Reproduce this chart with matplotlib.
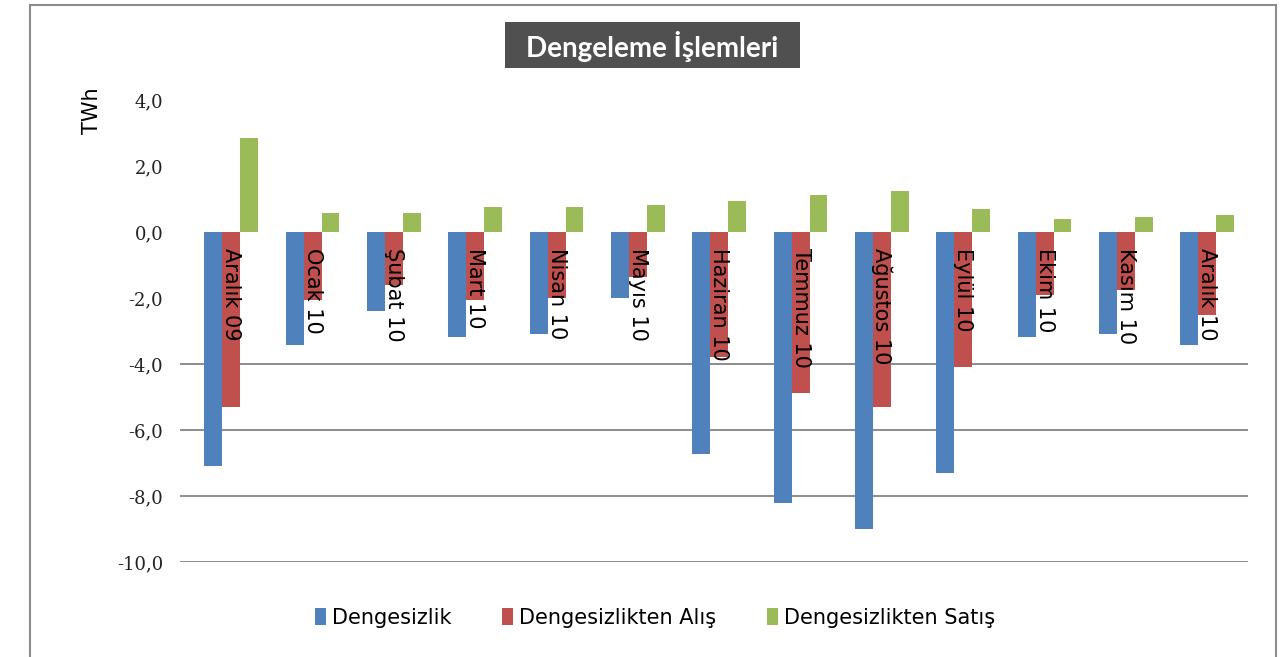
import numpy as np
import matplotlib
matplotlib.use("Agg")
import matplotlib.pyplot as plt
from matplotlib.patches import Rectangle
from matplotlib.ticker import FuncFormatter

plt.rcParams["axes.unicode_minus"] = False

# monthly balancing volumes, TWh
months = ["Aralık 09", "Ocak 10", "Şubat 10", "Mart 10", "Nisan 10", "Mayıs 10",
          "Haziran 10", "Temmuz 10", "Ağustos 10", "Eylül 10", "Ekim 10",
          "Kasım 10", "Aralık 10"]
dengesizlik = [-7.10, -3.42, -2.38, -3.17, -3.10, -2.01, -6.74, -8.22, -9.00,
               -7.29, -3.17, -3.10, -3.42]
alis = [-5.29, -2.06, -1.60, -2.06, -2.00, -1.35, -3.78, -4.87, -5.29,
        -4.08, -1.90, -1.76, -2.50]
satis = [2.84, 0.59, 0.59, 0.77, 0.77, 0.82, 0.95, 1.12, 1.24, 0.70, 0.39,
         0.46, 0.52]
series_names = ["Dengesizlik", "Dengesizlikten Alış", "Dengesizlikten Satış"]
yticks = [4, 2, 0, -2, -4, -6, -8, -10]

COLORS = ["#4F81BD", "#C0504D", "#9BBB59"]
BAR_W = 0.22
GRID_COLOR = "#8c8c8c"

fig = plt.figure(figsize=(12.87, 6.57), dpi=100)
ax = fig.add_axes([180 / 1287, 1 - 562 / 657, (1248 - 180) / 1287, (562 - 100) / 657])

x = np.arange(len(months))
for k, (vals, name) in enumerate(zip([dengesizlik, alis, satis], series_names)):
    ax.bar(x + (k - 1) * BAR_W, vals, width=BAR_W, color=COLORS[k], label=name,
           zorder=2)

# gridlines only show on the lower part of the original
for t in yticks:
    if t <= -4:
        ax.axhline(t, color=GRID_COLOR, lw=1.4, zorder=1)

# category labels hang down from the zero line, rotated
for i, m in enumerate(months):
    ax.text(i, -0.5, m, rotation=270, ha="center", va="top", fontsize=15,
            family="DejaVu Sans", color="black", zorder=3)

ax.set_xlim(-0.63, len(months) - 0.5)
ax.set_ylim(-10, 4)
ax.set_yticks(yticks)
ax.yaxis.set_major_formatter(FuncFormatter(lambda v, p: f"{v:.1f}".replace(".", ",")))
ax.tick_params(axis="y", length=0, pad=12, labelsize=13, labelcolor="#222222")
for lab in ax.get_yticklabels():
    lab.set_family("DejaVu Serif")
ax.set_xticks([])
for s in ax.spines.values():
    s.set_visible(False)

fig.text(92 / 1287, 1 - 111 / 657, "TWh", rotation=90, ha="center", va="center",
         fontsize=15, family="DejaVu Sans")

# title in a dark box
fig.patches.append(Rectangle((505 / 1287, 1 - 68 / 657), 295 / 1287, 46 / 657,
                             transform=fig.transFigure, facecolor="#505050",
                             edgecolor="none"))
fig.text(652 / 1287, 1 - 46 / 657, "Dengeleme İşlemleri", ha="center", va="center",
         fontsize=20, fontweight="bold", family="Lato", color="white")

# outer frame
fig.patches.append(Rectangle((30 / 1287, -0.02), (1276 - 30) / 1287, 1.02 - 5 / 657,
                             transform=fig.transFigure, facecolor="none",
                             edgecolor="#8c8c8c", lw=1.5))

leg = fig.legend(loc="center", bbox_to_anchor=(655 / 1287, 1 - 618 / 657), ncol=3,
                 frameon=False, prop={"family": "DejaVu Sans", "size": 15},
                 handlelength=0.55, handleheight=0.9, handletextpad=0.3,
                 columnspacing=2.4)

fig.savefig("out.png", dpi=100)
